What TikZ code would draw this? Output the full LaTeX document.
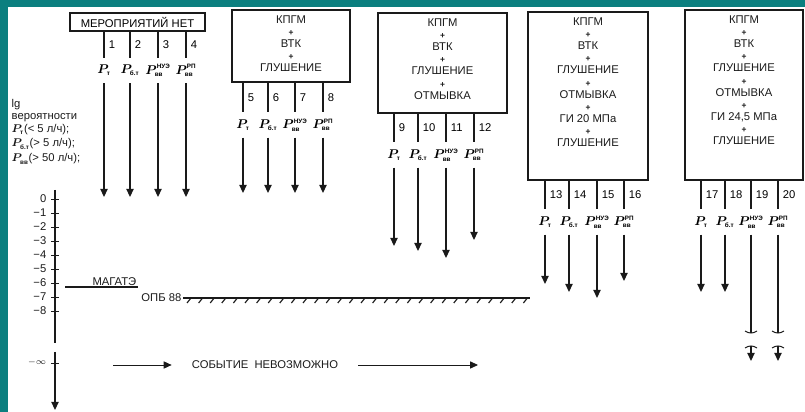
\documentclass[tikz,border=0pt]{standalone}
\usepackage{fontspec}
\setmainfont{Liberation Sans}
\usetikzlibrary{arrows.meta,positioning}
\definecolor{frame}{HTML}{0B7F7F}
\definecolor{ink}{HTML}{1A1A1A}
\newcommand{\boxfont}{\fontsize{8}{8.6}\selectfont}
\newcommand{\pl}{{\fontsize{6}{6}\selectfont\bfseries+}}
\newcommand{\Pv}[2]{{\boldmath$P_{\mbox{\fontsize{4.5}{5}\selectfont\bfseries #1}}^{\mbox{\fontsize{4.5}{5}\selectfont\bfseries #2}}$}}
\newcommand{\Pt}{\Pv{т}{}}
\newcommand{\Pbt}{\Pv{б.т}{}}
\newcommand{\Pnue}{\Pv{вв}{НУЭ}}
\newcommand{\Prp}{\Pv{вв}{РП}}

\begin{document}
\begin{tikzpicture}[
  x=0.025cm, y=-0.025cm,
  box/.style={draw=ink, line width=1.1pt, inner sep=0pt, font=\boxfont},
  btext/.style={font=\boxfont, align=center, inner sep=0pt, text=ink},
  plab/.style={font=\fontsize{9}{10}\selectfont, minimum height=0.62cm, inner sep=0pt},
  num/.style={font=\boxfont, anchor=west, inner sep=3pt},
  wire/.style={line width=0.9pt, draw=ink},
  edge/.style={-{Triangle[length=2mm,width=1.8mm]}, line width=0.9pt, draw=ink},
  note/.style={font=\boxfont, inner sep=1pt, text=ink}
]
\useasboundingbox (0,0) rectangle (805,412);
\fill[frame] (0,0) rectangle (8,412);
\fill[frame] (0,0) rectangle (805,7);

% boxes
\node[box, minimum width=3.375cm, minimum height=0.45cm] (b1) at (137.5,22) {МЕРОПРИЯТИЙ НЕТ};
\node[box, minimum width=2.95cm, minimum height=1.8cm] (b2) at (291,46) {};
\node[box, minimum width=3.225cm, minimum height=2.5cm] (b3) at (442.5,63) {};
\node[box, minimum width=3cm, minimum height=4.2cm] (b4) at (588,96) {};
\node[box, minimum width=2.95cm, minimum height=4.25cm] (b5) at (744,95) {};
\node[btext, below=4.5pt of b2.north] {КПГМ\\\pl\\ВТК\\\pl\\ГЛУШЕНИЕ};
\node[btext, below=4.5pt of b3.north] {КПГМ\\\pl\\ВТК\\\pl\\ГЛУШЕНИЕ\\\pl\\ОТМЫВКА};
\node[btext, below=4.5pt of b4.north] {КПГМ\\\pl\\ВТК\\\pl\\ГЛУШЕНИЕ\\\pl\\ОТМЫВКА\\\pl\\ГИ 20 МПа\\\pl\\ГЛУШЕНИЕ};
\node[btext, below=4.5pt of b5.north] {КПГМ\\\pl\\ВТК\\\pl\\ГЛУШЕНИЕ\\\pl\\ОТМЫВКА\\\pl\\ГИ 24,5 МПа\\\pl\\ГЛУШЕНИЕ};

% outcome arrows
\foreach \n/\x/\e/\lab in {1/104/197/\Pt, 2/130/197/\Pbt, 3/158/197/\Pnue, 4/186/197/\Prp}{
  \node[plab] (p\n) at (\x,70.5) {\lab};
  \coordinate (e\n) at (\x,\e);
  \draw[wire] (b1.south -| p\n) -- node[num] {\n} (p\n);
  \draw[edge] (p\n) -- (e\n);
}
\foreach \n/\x/\e/\lab in {5/243/193/\Pt, 6/268/193/\Pbt, 7/295/193/\Pnue, 8/323/193/\Prp}{
  \node[plab] (p\n) at (\x,125) {\lab};
  \coordinate (e\n) at (\x,\e);
  \draw[wire] (b2.south -| p\n) -- node[num] {\n} (p\n);
  \draw[edge] (p\n) -- (e\n);
}
\foreach \n/\x/\e/\lab in {9/394/246/\Pt, 10/418/251/\Pbt, 11/446/258/\Pnue, 12/474/240/\Prp}{
  \node[plab] (p\n) at (\x,155) {\lab};
  \coordinate (e\n) at (\x,\e);
  \draw[wire] (b3.south -| p\n) -- node[num] {\n} (p\n);
  \draw[edge] (p\n) -- (e\n);
}
\foreach \n/\x/\e/\lab in {13/545/284/\Pt, 14/569/292/\Pbt, 15/597/298/\Pnue, 16/624/281/\Prp}{
  \node[plab] (p\n) at (\x,222) {\lab};
  \coordinate (e\n) at (\x,\e);
  \draw[wire] (b4.south -| p\n) -- node[num] {\n} (p\n);
  \draw[edge] (p\n) -- (e\n);
}
\foreach \n/\x/\lab in {17/701/\Pt, 18/725/\Pbt, 19/751/\Pnue, 20/778/\Prp}{
  \node[plab] (p\n) at (\x,222) {\lab};
  \draw[wire] (b5.south -| p\n) -- node[num] {\n} (p\n);
}
\foreach \n/\x in {17/701, 18/725}{
  \coordinate (e\n) at (\x,292);
  \draw[edge] (p\n) -- (e\n);
}
\foreach \n/\x in {19/751, 20/778}{
  \coordinate (c\n) at (\x,333);
  \coordinate (d\n) at (\x,346);
  \coordinate (e\n) at (\x,361);
  \draw[wire] (p\n) -- (c\n);
  \draw[wire, line width=0.7pt] (\x-6,331) to[bend right=35] (\x+6,331);
  \draw[wire, line width=0.7pt] (\x-6,348) to[bend left=35] (\x+6,348);
  \draw[edge] (d\n) -- (e\n);
}

% probability axis
\coordinate (ax0) at (55,190);
\coordinate (ax1) at (55,343);
\coordinate (ax2) at (55,352);
\coordinate (ax3) at (55,410);
\draw[wire] (ax0) -- (ax1);
\draw[edge] (ax2) -- (ax3);
\foreach \t [count=\k from 0] in {0,−1,−2,−3,−4,−5,−6,−7,−8}{
  \draw[wire, line width=0.7pt] (51,{199+14*\k}) -- (59,{199+14*\k});
  \node[note, anchor=east] at (48,{199+14*\k}) {\t};
}
\draw[wire, line width=0.7pt] (51,363) -- (59,363);
\node[note, anchor=east, font=\fontsize{6}{7}\selectfont] (minf) at (48,362) {$-\infty$};
\node[note, anchor=north west, align=left] (ylab) at (10,98)
  {lg\\вероятности\\\Pt(< 5 л/ч);\\[2pt]\Pbt(> 5 л/ч);\\[2pt]\Pv{вв}{}(> 50 л/ч);};

% limits
\coordinate (iaea0) at (65,287);
\coordinate (iaea1) at (138,287);
\draw[wire] (iaea0) -- (iaea1);
\node[note, anchor=south east] (iaea) at (iaea1) {МАГАТЭ};
\node[note, anchor=east] (opb) at (183,298) {ОПБ 88};
\coordinate (opb1) at (530,298);
\draw[wire, line width=1.1pt] (opb) -- (opb1);
\foreach \i in {0,...,29}
  \draw[wire, line width=0.8pt] ({191+11.6*\i},298) -- ++(-4,5);

% impossible event
\node[note, inner xsep=0.5cm] (imp) at (265,365) {СОБЫТИЕ\ \ НЕВОЗМОЖНО};
\coordinate (imp0) at (113,365);
\coordinate (imp1) at (478,365);
\draw[edge, line width=0.6pt] (imp0) -- (imp);
\draw[edge, line width=0.6pt] (imp) -- (imp1);
\end{tikzpicture}
\end{document}
